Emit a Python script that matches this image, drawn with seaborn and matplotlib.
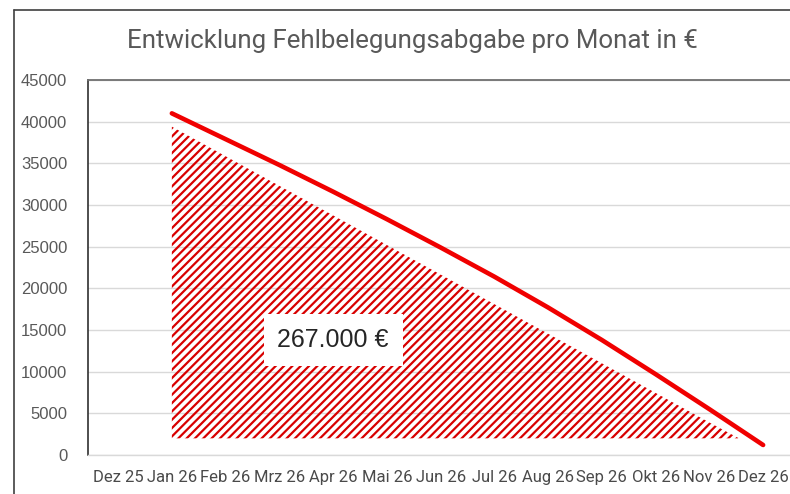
import numpy as np
import pandas as pd
import matplotlib
matplotlib.use("Agg")
import matplotlib.pyplot as plt
from matplotlib.lines import Line2D
import seaborn as sns

# Data
monate = ["Dez 25", "Jan 26", "Feb 26", "Mrz 26", "Apr 26", "Mai 26", "Jun 26",
          "Jul 26", "Aug 26", "Sep 26", "Okt 26", "Nov 26", "Dez 26"]
linien_monate = monate[1:]
abgabe = [41000, 37900, 34800, 31600, 28300, 24900, 21400, 17700, 13800, 9700, 5500, 1200]
# hatched shape (upper edge per month, flat lower edge)
flaeche_oben = [39400, 35850, 32300, 28750, 25200, 21650, 18100, 14550, 11000, 7450, 3900, 450]
flaeche_unten = 2000
summe_text = "267.000 €"
y_ticks = list(range(0, 45001, 5000))
titel = "Entwicklung Fehlbelegungsabgabe pro Monat in €"

ROT = "#F00000"
GRAU_TEXT = "#595959"

sns.set_theme(style="white")
plt.rcParams["font.family"] = ["Liberation Sans", "DejaVu Sans"]
plt.rcParams["hatch.linewidth"] = 1.6
plt.rcParams["hatch.color"] = "#D80000"

pos = {m: i for i, m in enumerate(monate)}
df = pd.DataFrame({"pos": [pos[m] for m in linien_monate],
                   "abgabe": abgabe,
                   "oben": flaeche_oben})

fig = plt.figure(figsize=(7.9, 4.94), dpi=100)
ax = fig.add_axes([88 / 790, 39 / 494, 702 / 790, 375 / 494])

# hatched area
x = df["pos"].to_numpy(dtype=float)
oben = df["oben"].to_numpy(dtype=float)
ax.fill_between(x, oben, flaeche_unten, where=oben >= flaeche_unten, interpolate=True,
                facecolor="none", edgecolor="#D80000", hatch="////", linewidth=0, zorder=2)

sns.lineplot(data=df, x="pos", y="abgabe", color=ROT, linewidth=3.3, ax=ax,
             solid_capstyle="round", zorder=3)

ax.text(4, 13800, summe_text, ha="center", va="center", fontsize=18, color="#262626",
        bbox=dict(boxstyle="square,pad=0.55", facecolor="white", edgecolor="none"), zorder=4)

ax.set_xlim(-0.56, 12.5)
ax.set_ylim(0, 45000)
ax.set_yticks(y_ticks)
ax.set_yticklabels([str(v) for v in y_ticks], fontsize=12, color=GRAU_TEXT)
ax.set_xticks(range(len(monate)))
ax.set_xticklabels(monate, fontsize=12, color="#4a4a4a", family=["Roboto", "DejaVu Sans"])
ax.set_xticks(np.arange(-0.5, len(monate), 1.0), minor=True)
ax.tick_params(axis="x", which="major", length=0, pad=11)
ax.tick_params(axis="x", which="minor", length=6, color="#D9D9D9", width=1, direction="out")
ax.tick_params(axis="y", length=0, pad=15)
ax.set_xlabel("")
ax.set_ylabel("")

ax.grid(axis="y", color="#D9D9D9", linewidth=1)
ax.grid(axis="x", visible=False)
ax.set_axisbelow(True)

ax.spines["left"].set_color("#303030")
ax.spines["left"].set_linewidth(1.2)
ax.spines["top"].set_color("#707070")
ax.spines["top"].set_linewidth(1.3)
ax.spines["bottom"].set_color("#D9D9D9")
ax.spines["bottom"].set_linewidth(1)
ax.spines["right"].set_visible(False)

fig.text(412 / 790, 1 - 41 / 494, titel, ha="center", va="center", fontsize=18.6,
         color=GRAU_TEXT, family=["Roboto", "DejaVu Sans"])

# outer chart frame (top-left corner visible in the screenshot)
fig.add_artist(Line2D([14 / 790, 14 / 790], [0, 1 - 10 / 494], color="#404040", linewidth=1.2))
fig.add_artist(Line2D([14 / 790, 1], [1 - 10 / 494, 1 - 10 / 494], color="#404040", linewidth=1.2))

fig.savefig("out.png", dpi=100)
